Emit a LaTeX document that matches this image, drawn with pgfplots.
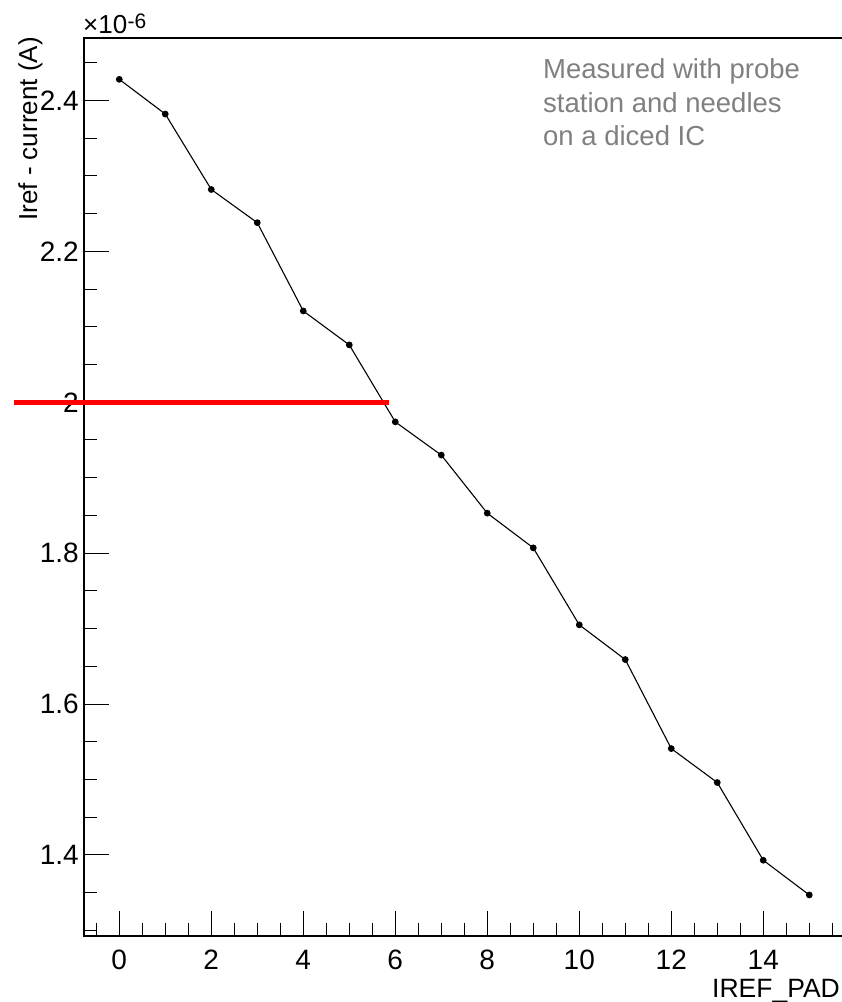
\documentclass[border=0pt]{standalone}
\usepackage{fontspec}
\setmainfont{Liberation Sans}
\usepackage{pgfplots}
\pgfplotsset{compat=1.18}
\definecolor{annot}{RGB}{128,128,128}
\begin{document}
\begin{tikzpicture}[x=1pt,y=1pt]
\begin{axis}[
  at={(84pt,66pt)}, anchor=south west, scale only axis,
  width=780pt, height=898pt,
  xmin=-0.767, xmax=16.19, ymin=1.2926, ymax=2.4828,
  axis line style={draw=none},
  tick align=inside, tick pos=left,
  xtick={0,2,...,14}, minor xtick={-0.5,0,...,15.5},
  ytick={1.4,1.6,1.8,2.0,2.2,2.4}, yticklabels={1.4,1.6,1.8,2,2.2,2.4},
  minor ytick={1.3,1.35,...,2.46},
  major tick length=25pt, minor tick length=13pt,
  every tick/.style={black, line width=1pt},
  /pgf/number format/assume math mode=true,
  ticklabel style={font=\fontsize{28}{32}\selectfont},
  xticklabel style={inner sep=0pt, yshift=-14pt},
  yticklabel style={inner sep=0pt, xshift=-5pt},
  clip=false,
]
\draw[line width=1.2pt] (rel axis cs:1,1) -- (rel axis cs:0,1) -- (rel axis cs:0,0) -- (rel axis cs:1,0);
\addplot[black, line width=1.1pt, mark=*, mark size=2.8pt] table {
x y
0 2.428
1 2.382
2 2.282
3 2.238
4 2.121
5 2.076
6 1.974
7 1.930
8 1.853
9 1.807
10 1.705
11 1.659
12 1.541
13 1.496
14 1.393
15 1.347
};
\addplot[red, line width=4.7pt, forget plot] coordinates {(-2.289,2) (5.857,2)};
\end{axis}
\node[rotate=90, anchor=base east, inner sep=0pt, font=\fontsize{26}{30}\selectfont] at (37pt,965pt) {Iref - current (A)};
\node[anchor=base east, inner sep=0pt, font=\fontsize{26.5}{30}\selectfont] at (840pt,5pt) {IREF\_PAD};
\node[anchor=base west, inner sep=0pt, font=\fontsize{26}{30}\selectfont] (xten) at (83pt,968.7pt) {×10};
\node[anchor=base west, inner sep=0pt, font=\fontsize{21}{24}\selectfont] at ([yshift=5pt]xten.base east) {-6};
\node[anchor=base west, inner sep=0pt, text=annot, font=\fontsize{27.5}{32}\selectfont] at (543pt,923pt) {Measured with probe};
\node[anchor=base west, inner sep=0pt, text=annot, font=\fontsize{27.5}{32}\selectfont] at (543pt,889pt) {station and needles};
\node[anchor=base west, inner sep=0pt, text=annot, font=\fontsize{27.5}{32}\selectfont] at (543pt,856pt) {on a diced IC};
\pgfresetboundingbox
\path (0,0) rectangle (842pt,1002pt);
\end{tikzpicture}
\end{document}
